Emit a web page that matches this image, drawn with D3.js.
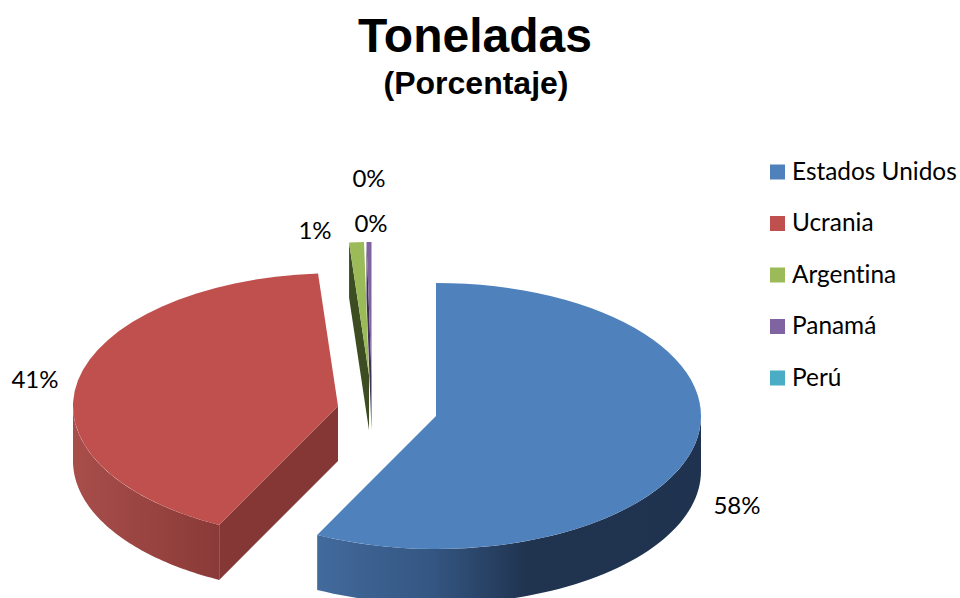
<!DOCTYPE html>
<html><head><meta charset="utf-8">
<script src="https://cdn.jsdelivr.net/npm/d3@7/dist/d3.min.js"></script>
<style>html,body{margin:0;padding:0;background:#fff}svg{display:block}text{font-variant-ligatures:none}</style>
</head><body><svg id="c" width="960" height="598"></svg>
<script>
const categories = ["Estados Unidos","Ucrania","Argentina","Panamá","Perú"];
const values = [57.4,41.4,0.9,0.3,0.0];
const pctLabels = ["58%","41%","1%","0%","0%"];
const colors = ["#4f81bd","#c0504d","#9bbb59","#8064a2","#4bacc6"];
const sideColors = ["#1f3350","#853735","#3c4d22","#3f3155","#205867"];

const W=960,H=598, rx=265, ry=133, depth=55;
const cx=387.3, cy=410.4;
// exploded offset of each slice from the pie centre
const offset=[[48.7,5.6],[-49.3,-4.4],[-18.3,-35.4],[-15.8,-35.4],[-15.8,-35.4]];
const labelPos=[[737,504],[35,378],[315,229],[371,222],[369,177]];

const svg=d3.select("#c");
const defs=svg.append("defs");
function grad(id,stops){
  const g=defs.append("linearGradient").attr("id",id).attr("x1",0).attr("x2",1).attr("y1",0).attr("y2",0);
  stops.forEach(s=>g.append("stop").attr("offset",s[0]).attr("stop-color",s[1]));
}
grad("wall0",[[0,"#426a9c"],[0.3,"#345682"],[0.55,"#20334f"],[1,"#1f3350"]]);
grad("wall1",[[0,"#a84e4b"],[0.6,"#96423f"],[1,"#8a3a38"]]);

const pie=d3.pie().sort(null).value(d=>d).startAngle(0).endAngle(2*Math.PI);
const arcs=pie(values);
const arc=d3.arc().innerRadius(0).outerRadius(rx);
const ratio=ry/rx;

function wallAngles(a0,a1){
  const s=Math.max(a0,Math.PI/2), e=Math.min(a1,1.5*Math.PI);
  return s<e? d3.range(0,61).map(i=>s+(e-s)*i/60):[];
}
const order=[1,0,2,3,4];
order.forEach(i=>{
  const d=arcs[i], ox=cx+offset[i][0], oy=cy+offset[i][1];
  const g=svg.append("g").attr("transform",`translate(${ox},${oy})`);
  const px=t=>rx*Math.sin(t), py=t=>-ry*Math.cos(t);
  const face=t=>d3.line()([[0,0],[px(t),py(t)],[px(t),py(t)+depth],[0,depth]]);
  if(i===1) g.append("path").attr("d",face(d.startAngle)).attr("fill",sideColors[i]);
  if(i>=2 && d.value>0) g.append("path").attr("d",face(d.startAngle)).attr("fill",sideColors[i]);
  const as=wallAngles(d.startAngle,d.endAngle);
  if(as.length){
    const area=d3.area().x(px).y0(py).y1(t=>py(t)+depth);
    g.append("path").attr("d",area(as)).attr("fill",`url(#wall${i})`);
  }
  g.append("path").attr("transform",`scale(1,${ratio})`).attr("d",arc(d)).attr("fill",colors[i]);
});

const font='Lato, Carlito, sans-serif';
svg.append("g").selectAll("text").data(pctLabels).join("text")
  .attr("x",(d,i)=>labelPos[i][0]).attr("y",(d,i)=>labelPos[i][1])
  .attr("text-anchor","middle").attr("dominant-baseline","central")
  .attr("font-family",font).attr("font-size",24).attr("fill","#000").text(d=>d);

const ly=d3.scalePoint().domain(categories).range([172,378]);
const lg=svg.append("g").selectAll("g").data(categories).join("g");
lg.append("rect").attr("x",770).attr("y",d=>ly(d)-7.5).attr("width",15).attr("height",15)
  .attr("fill",(d,i)=>colors[i]);
lg.append("text").attr("x",792).attr("y",d=>ly(d)-2).attr("dominant-baseline","central")
  .attr("font-family",font).attr("font-size",24.4).attr("fill","#000").text(d=>d);

svg.append("text").attr("x",475).attr("y",52).attr("text-anchor","middle")
  .attr("font-family","'Liberation Sans',Arial,sans-serif").attr("font-weight",700)
  .attr("font-size",48).text("Toneladas");
svg.append("text").attr("x",476).attr("y",94).attr("text-anchor","middle")
  .attr("font-family","'Liberation Sans',Arial,sans-serif").attr("font-weight",700)
  .attr("font-size",32).text("(Porcentaje)");
</script></body></html>
